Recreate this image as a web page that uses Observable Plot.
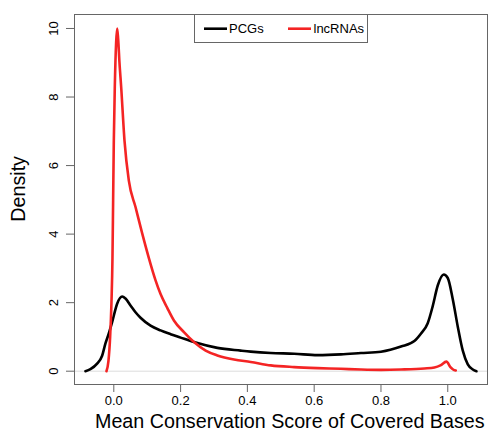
<!DOCTYPE html>
<html>
<head>
<meta charset="utf-8">
<script src="https://cdn.jsdelivr.net/npm/d3@7"></script>
<script src="https://cdn.jsdelivr.net/npm/@observablehq/plot@0.6"></script>
<style>
  html, body { margin: 0; padding: 0; background: white; }
  #chart { position: relative; width: 489px; height: 432px; }
</style>
</head>
<body>
<div id="chart"></div>
<script>
// Series names
const seriesNames = ["PCGs", "lncRNAs"];
const seriesColors = ["black", "#f42424"];

// PCGs density curve
const pcgX = [-0.085, -0.07, -0.05, -0.035, -0.025, -0.015, -0.005, 0.01, 0.025, 0.035, 0.05, 0.065, 0.08, 0.11, 0.14, 0.17, 0.2, 0.24, 0.31, 0.38, 0.41, 0.47, 0.54, 0.61, 0.68, 0.74, 0.8, 0.86, 0.9, 0.92, 0.94, 0.955, 0.97, 0.988, 1.0, 1.015, 1.03, 1.045, 1.06, 1.075, 1.086];
const pcgY = [0.0, 0.06, 0.22, 0.45, 0.81, 1.1, 1.43, 1.97, 2.18, 2.12, 1.92, 1.72, 1.56, 1.33, 1.19, 1.08, 0.98, 0.85, 0.68, 0.6, 0.57, 0.53, 0.51, 0.47, 0.49, 0.53, 0.57, 0.72, 0.88, 1.1, 1.4, 1.9, 2.5, 2.82, 2.72, 2.1, 1.3, 0.6, 0.2, 0.05, 0.0];

// lncRNAs density curve
const lncX = [-0.022, -0.016, -0.011, -0.007, -0.004, -0.002, 0.0, 0.003, 0.007, 0.010, 0.013, 0.017, 0.022, 0.032, 0.045, 0.065, 0.085, 0.105, 0.125, 0.14, 0.16, 0.18, 0.21, 0.24, 0.275, 0.31, 0.36, 0.41, 0.47, 0.54, 0.61, 0.68, 0.74, 0.8, 0.86, 0.93, 0.96, 0.978, 0.996, 1.008, 1.016, 1.024];
const lncY = [0.0, 0.3, 1.0, 2.0, 3.3, 5.0, 6.7, 8.3, 9.6, 10.0, 9.7, 9.0, 8.3, 6.73, 5.56, 4.79, 4.02, 3.3, 2.65, 2.25, 1.85, 1.48, 1.14, 0.85, 0.6, 0.46, 0.34, 0.27, 0.17, 0.12, 0.09, 0.07, 0.05, 0.04, 0.05, 0.08, 0.11, 0.17, 0.28, 0.12, 0.05, 0.02];

// Tick values
const xTicks = [0, 0.2, 0.4, 0.6, 0.8, 1.0];
const yTicks = [0, 2, 4, 6, 8, 10];

const xLabel = "Mean Conservation Score of Covered Bases";
const yLabel = "Density";

const pcg = pcgX.map((x, i) => ({x, y: pcgY[i]}));
const lnc = lncX.map((x, i) => ({x, y: lncY[i]}));

const W = 489, H = 432;
const mL = 74, mR = 2, mT = 14, mB = 48;

const plot = Plot.plot({
  width: W,
  height: H,
  marginLeft: mL,
  marginRight: mR,
  marginTop: mT,
  marginBottom: mB,
  style: {fontFamily: "'Liberation Sans', Arial, sans-serif", fontSize: "13px", background: "white", color: "black"},
  x: {domain: [-0.1177, 1.119]},
  y: {domain: [-0.388, 10.408]},
  marks: [
    Plot.ruleY([0], {stroke: "#dcdcdc", strokeWidth: 1}),
    Plot.line(pcg, {x: "x", y: "y", stroke: seriesColors[0], strokeWidth: 2.6, curve: "monotone-x"}),
    Plot.line(lnc, {x: "x", y: "y", stroke: seriesColors[1], strokeWidth: 2.6, curve: "monotone-x"}),
    Plot.frame({stroke: "#666"}),
    Plot.axisX({ticks: xTicks, tickFormat: d3.format(".1f"), tickSize: 8, tickPadding: 3, stroke: "#666", label: null}),
    Plot.axisY({ticks: yTicks, tickFormat: d => String(d), tickSize: 8, tickPadding: 9, tickRotate: -90, stroke: "#666", label: null})
  ]
});

document.getElementById("chart").appendChild(plot);

const svg = d3.select(plot);
const ff = "'Liberation Sans', Arial, sans-serif";

// tick label font size
svg.selectAll('g[aria-label$="tick label"]').attr("font-size", 13).style("font-size", "13px");

// Axis titles
svg.append("text")
  .attr("x", 95)
  .attr("y", 428)
  .attr("text-anchor", "start")
  .attr("font-family", ff)
  .attr("font-size", 19.7)
  .attr("fill", "black")
  .text(xLabel);

svg.append("text")
  .attr("transform", `translate(25,221.7) rotate(-90)`)
  .attr("text-anchor", "start")
  .attr("font-family", ff)
  .attr("font-size", 19.7)
  .attr("fill", "black")
  .text(yLabel);

// Legend (top, centered)
const lg = svg.append("g");
lg.append("rect")
  .attr("x", 194.5).attr("y", 14.5)
  .attr("width", 173).attr("height", 28)
  .attr("fill", "white").attr("stroke", "#666");
const items = [{x0: 204, x1: 227, tx: 229}, {x0: 288, x1: 311, tx: 313.5}];
items.forEach((it, i) => {
  lg.append("line")
    .attr("x1", it.x0).attr("x2", it.x1)
    .attr("y1", 28.7).attr("y2", 28.7)
    .attr("stroke", seriesColors[i]).attr("stroke-width", 2.6);
  lg.append("text")
    .attr("x", it.tx).attr("y", 33.3)
    .attr("text-anchor", "start")
    .attr("font-family", ff).attr("font-size", 13)
    .attr("fill", "black")
    .text(seriesNames[i]);
});
</script>
</body>
</html>
